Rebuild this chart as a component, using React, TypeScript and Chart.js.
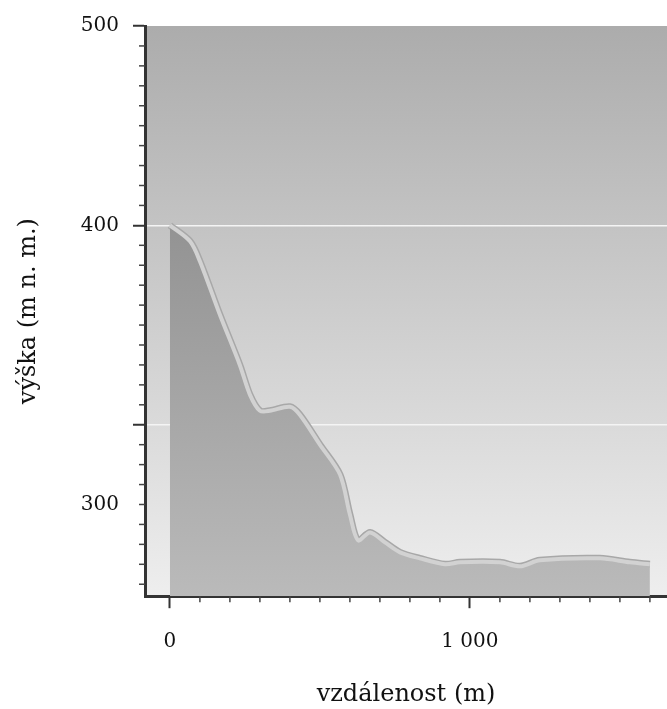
import { useEffect, useRef } from "react";
import Chart from "chart.js/auto";

const distances = [0, 67, 100, 167, 233, 267, 300, 333, 400, 433, 500, 567, 600, 627, 667, 717, 767, 833, 917, 967, 1100, 1167, 1233, 1433, 1533, 1600];
const heights = [400, 392, 382, 355, 330, 315, 307, 307, 309, 305, 290, 275, 255, 242, 246, 241, 236, 233, 230, 231, 231, 229, 232, 233, 231, 230];
const yTickValues = [500, 400, 300, 260];
const yTickLabels: Record<number, string> = { 500: "500", 400: "400", 300: "", 260: "300" };
const xTickValues = [0, 1000];

const FONT = "'DejaVu Serif', serif";

const bgPlugin = {
  id: "bg",
  beforeDraw(chart: any) {
    const { ctx, chartArea: a } = chart;
    const g = ctx.createLinearGradient(0, a.top, 0, a.bottom);
    g.addColorStop(0, "#acacac");
    g.addColorStop(1, "#eeeeee");
    ctx.save();
    ctx.fillStyle = g;
    ctx.fillRect(a.left, a.top, a.right - a.left, a.bottom - a.top);
    ctx.restore();
  },
  afterDraw(chart: any) {
    const { ctx, chartArea: a, scales } = chart;
    ctx.save();
    ctx.strokeStyle = "#444";
    ctx.lineWidth = 1.5;
    for (let v = 220; v < 500; v += 10) {
      if (v % 100 === 0) continue;
      const y = scales.y.getPixelForValue(v);
      if (y > a.bottom - 2) continue;
      ctx.beginPath();
      ctx.moveTo(a.left - 6, y);
      ctx.lineTo(a.left, y);
      ctx.stroke();
    }
    for (let v = 100; v < 1700; v += 100) {
      if (v === 1000) continue;
      const x = scales.x.getPixelForValue(v);
      if (x > a.right) continue;
      ctx.beginPath();
      ctx.moveTo(x, a.bottom);
      ctx.lineTo(x, a.bottom + 6);
      ctx.stroke();
    }
    ctx.restore();
  },
};

export default function App() {
  const canvasRef = useRef<HTMLCanvasElement>(null);

  useEffect(() => {
    if (!canvasRef.current) return;
    const points = distances.map((d, i) => ({ x: d, y: heights[i] }));
    const chart = new Chart(canvasRef.current, {
      type: "line",
      data: {
        datasets: [
          {
            data: points,
            borderColor: "#d2d2d2",
            borderWidth: 4,
            pointRadius: 0,
            tension: 0.3,
            fill: "origin",
            backgroundColor: (c: any) => {
              const a = c.chart.chartArea;
              if (!a) return "#999";
              const g = c.chart.ctx.createLinearGradient(0, a.top, 0, a.bottom);
              g.addColorStop(0, "#7e7e7e");
              g.addColorStop(1, "#bababa");
              return g;
            },
            order: 2,
          },
          {
            data: points,
            borderColor: "#a8a8a8",
            borderWidth: 7,
            pointRadius: 0,
            tension: 0.3,
            fill: false,
            order: 3,
          },
        ],
      },
      options: {
        animation: false,
        responsive: true,
        maintainAspectRatio: false,
        layout: { padding: { top: 7, right: 0, left: 0, bottom: 0 } },
        plugins: { legend: { display: false }, tooltip: { enabled: false } },
        scales: {
          x: {
            type: "linear",
            min: -83,
            max: 1657,
            afterBuildTicks: (s: any) => {
              s.ticks = xTickValues.map((v) => ({ value: v }));
            },
            ticks: {
              callback: (v: any) => (v === 1000 ? "1 000" : String(v)),
              font: { family: FONT, size: 20 },
              color: "#111",
              padding: 22,
              maxRotation: 0,
            },
            grid: { drawOnChartArea: false, tickLength: 12, tickColor: "#333", tickWidth: 2 },
            border: { color: "#333", width: 3 },
            title: {
              display: true,
              text: "vzdálenost (m)",
              font: { family: FONT, size: 24 },
              color: "#111",
              padding: { top: 4, bottom: 0 },
            },
          },
          y: {
            type: "linear",
            min: 214,
            max: 500,
            afterBuildTicks: (s: any) => {
              s.ticks = yTickValues.map((v) => ({ value: v }));
            },
            afterFit: (s: any) => {
              s.width = 145;
            },
            ticks: {
              callback: (v: any) => yTickLabels[v] ?? "",
              font: { family: FONT, size: 20 },
              color: "#111",
              padding: 14,
            },
            grid: {
              tickLength: 12,
              tickWidth: 2,
              color: (c: any) => (c.tick && (c.tick.value === 400 || c.tick.value === 300) ? "#f4f4f4" : "transparent"),
              tickColor: (c: any) => (c.tick && c.tick.value === 260 ? "transparent" : "#333"),
              lineWidth: 1.5,
            },
            border: { color: "#333", width: 3 },
            title: {
              display: true,
              text: "výška (m n. m.)",
              font: { family: FONT, size: 24 },
              color: "#111",
              padding: { top: 14, bottom: 0 },
            },
          },
        },
      },
      plugins: [bgPlugin],
    } as any);
    return () => chart.destroy();
  }, []);

  return (
    <div style={{ position: "absolute", left: 0, top: 0, width: 667, height: 709, background: "#fff" }}>
      <canvas ref={canvasRef}></canvas>
    </div>
  );
}
